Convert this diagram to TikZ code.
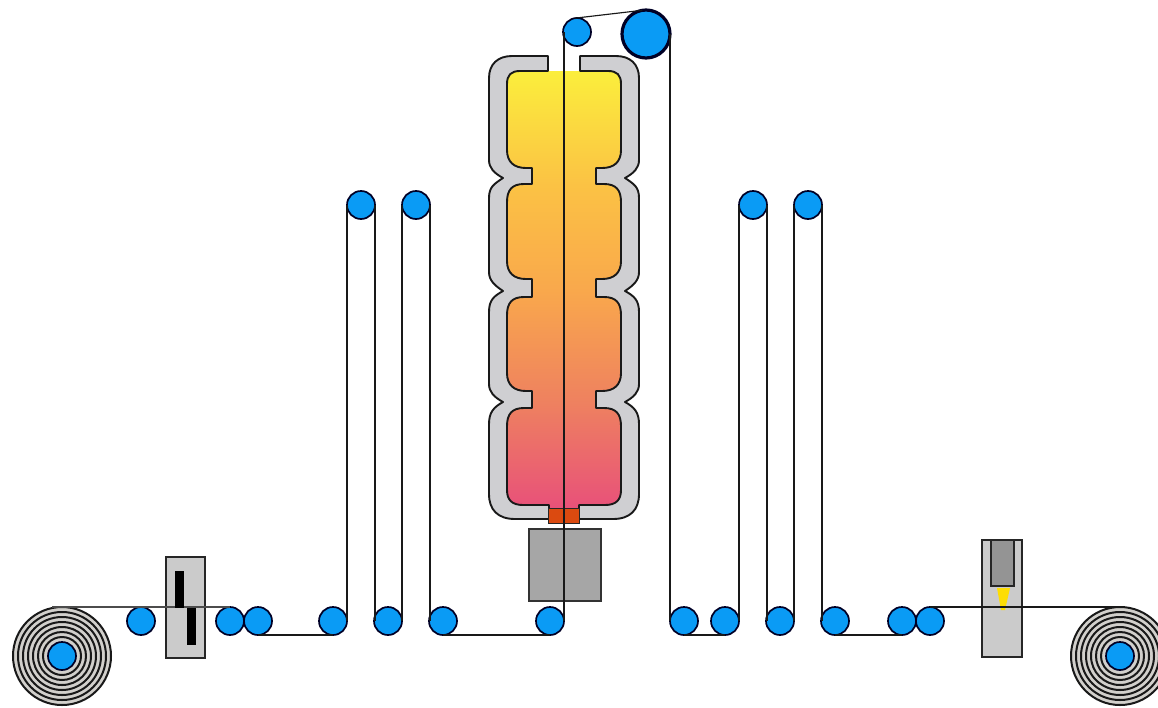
\documentclass[tikz,border=0pt]{standalone}
\definecolor{rollerblue}{HTML}{0A9BF5}
\definecolor{wallgrey}{HTML}{CFCFD2}
\definecolor{toolgrey}{HTML}{CBCBCB}
\definecolor{ringgrey}{HTML}{D2D0CC}
\definecolor{heatred}{HTML}{DB4A10}
\definecolor{c1}{HTML}{E8507A}
\definecolor{c2}{HTML}{EE8060}
\definecolor{c3}{HTML}{F9A84C}
\definecolor{c4}{HTML}{FBC244}
\definecolor{c5}{HTML}{FBEE3C}
\tikzset{
  roller/.style={circle,draw=black!85!blue,line width=1.7pt,fill=rollerblue,minimum size=28pt,inner sep=0pt,outer sep=0pt},
  bigroller/.style={roller,line width=3.2pt,minimum size=48pt},
  web/.style={draw=black!90,line width=1.15pt},
  greywall/.style={draw=black!90,line width=1.9pt,fill=wallgrey,line join=round},
  toolbox/.style={draw=black!85,line width=1.5pt,fill=toolgrey},
  ring/.style={draw=black!90,line width=2pt,fill=ringgrey}
}
\pgfdeclareverticalshading{chamber}{100bp}{
  color(0bp)=(c1);color(25bp)=(c1);color(37bp)=(c2);color(50bp)=(c3);color(62bp)=(c4);color(75bp)=(c5);color(100bp)=(c5)}
\newcommand{\innerprofile}{
  (520,71) .. controls (511,71) and (507,75) .. (507,84)
  -- (507,150) .. controls (507,162) and (514,168) .. (526,168) -- (532,168) -- (532,184) -- (524,184)
  .. controls (512,184) and (507,190) .. (507,202)
  -- (507,261) .. controls (507,273) and (514,279) .. (526,279) -- (532,279) -- (532,297) -- (524,297)
  .. controls (512,297) and (507,303) .. (507,315)
  -- (507,373) .. controls (507,385) and (514,391) .. (526,391) -- (532,391) -- (532,408) -- (524,408)
  .. controls (512,408) and (507,414) .. (507,426)
  -- (507,490) .. controls (507,500) and (512,505) .. (523,505) -- (549,505)}
\newcommand{\innerhalf}{(564,71) -- \innerprofile -- (549,510) -- (564,510) -- cycle}
\newcommand{\wallhalf}{
  (548,71) -- \innerprofile -- (549,519)
  -- (515,519) .. controls (498,519) and (489,510) .. (489,494)
  -- (489,424) .. controls (489,412) and (494,407) .. (503,402)
  .. controls (494,397) and (489,392) .. (489,384)
  -- (489,312) .. controls (489,300) and (494,296) .. (503,291)
  .. controls (494,285) and (489,280) .. (489,272)
  -- (489,198) .. controls (489,187) and (494,184) .. (503,178)
  .. controls (494,173) and (489,168) .. (489,160)
  -- (489,78) .. controls (489,64) and (498,56) .. (512,56) -- (548,56) -- cycle}
\begin{document}
\begin{tikzpicture}[x=1pt,y=-1pt]
  \useasboundingbox (0,0) rectangle (1158,707);
  % chamber
  \path[shading=chamber] \innerhalf;
  \begin{scope}[shift={(1128,0)},xscale=-1]
    \path[shading=chamber] \innerhalf;
  \end{scope}
  \path[greywall] \wallhalf;
  \begin{scope}[shift={(1128,0)},xscale=-1]
    \path[greywall] \wallhalf;
  \end{scope}
  \node[draw=black!85,line width=1.4pt,fill=heatred,minimum width=31pt,minimum height=15pt,inner sep=0pt,outer sep=0pt] (heater) at (564,516) {};
  \node[draw=black!80,line width=1.3pt,fill=black!35,minimum width=72pt,minimum height=72pt,inner sep=0pt,outer sep=0pt] (furnace) at (565,565) {};
  % left tool
  \node[toolbox,minimum width=39pt,minimum height=101pt,inner sep=0pt,outer sep=0pt] (toolL) at (185.5,607.5) {};
  % right tool
  \node[toolbox,minimum width=40pt,minimum height=117pt,inner sep=0pt,outer sep=0pt] (toolR) at (1002,598.5) {};
  \node[draw=black!85,line width=1.4pt,fill=black!42,minimum width=23pt,minimum height=46pt,inner sep=0pt,outer sep=0pt] (nozzle) at (1002.5,563) {};
  \fill[yellow!80!orange] (997,588) -- (1010,588) -- (1005,610) -- (1001,610) -- cycle;
  % reels
  \foreach \c in {62,1120}{
    \foreach \r in {49,44,39,34,29,24,19}
      \draw[ring] (\c,656) circle (\r);
  }
  % rollers
  \node[roller] (reelL) at (62,656) {};
  \node[roller] (reelR) at (1120,656) {};
  \foreach \x in {141,230,258,333,388,443,550,684,725,780,835,902,930}
    \node[roller] (r\x) at (\x,621) {};
  \foreach \x in {361,416,753,808}
    \node[roller] (t\x) at (\x,205) {};
  \node[roller] (top) at (577,32) {};
  \node[bigroller] (big) at (646,34) {};
  % web
  \coordinate (startL) at (52,607);
  \coordinate (endR) at (1118,607);
  \draw[draw=black!70,line width=1.6pt] (startL) -- (startL -| r230.north);
  \fill (175,571) rectangle (184,608);
  \fill (187,608) rectangle (196,645);
  \path[web] (r258.south) -- (r333.south);
  \path[web] (r333.east) -- (t361.west);
  \path[web] (t361.east) -- (t361.east |- r388.west);
  \path[web] (r388.east) -- (t416.west);
  \path[web] (t416.east) -- (t416.east |- r443.west);
  \path[web] (r443.south) -- (r550.south);
  \path[web] (r550.east) -- (r550.east |- top.west);
  \path[web] (top.99) -- (big.99);
  \path[web] (big.east) -- (big.east |- r684.west);
  \path[web] (r684.south) -- (r725.south);
  \path[web] (r725.east) -- (t753.west);
  \path[web] (t753.east) -- (t753.east |- r780.west);
  \path[web] (r780.east) -- (t808.west);
  \path[web] (t808.east) -- (t808.east |- r835.west);
  \path[web] (r835.south) -- (r902.south);
  \path[web] (r930.north) -- (endR);
\end{tikzpicture}
\end{document}
